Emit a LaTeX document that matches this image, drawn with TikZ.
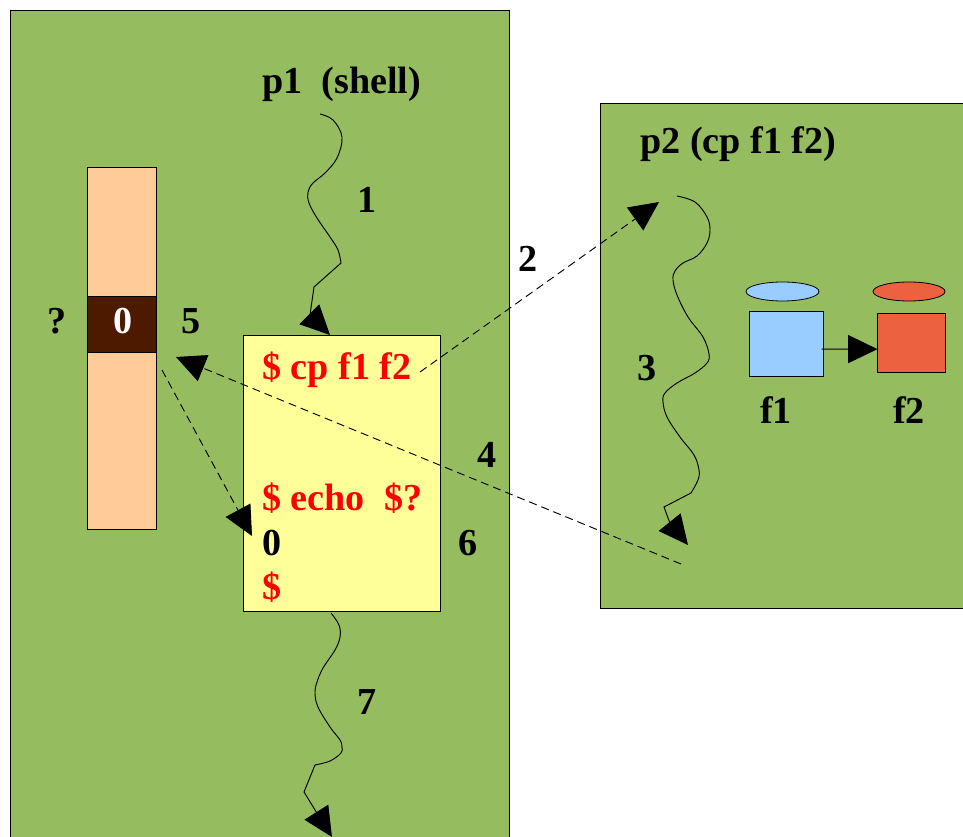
\documentclass[tikz,border=0pt]{standalone}
\usepackage{fontspec}
\setmainfont{Liberation Serif}
\usetikzlibrary{arrows.meta}
\usetikzlibrary{shapes.geometric}
\tikzset{>={Triangle[length=22pt,width=21pt]}}
\tikzstyle{panel} = [draw=black,line width=0.6pt]
\tikzstyle{box} = [draw=black,line width=0.6pt,inner sep=0pt]
\tikzstyle{tag} = [inner sep=0pt,anchor=base west,font=\fontsize{28.6}{30}\selectfont\bfseries]
\tikzstyle{wave} = [line width=0.7pt,->]
\tikzstyle{jump} = [line width=0.7pt,->,dash pattern=on 6pt off 3.75pt]
\definecolor{panelgreen}{HTML}{95BC5F}
\definecolor{termyellow}{HTML}{FFFF99}
\definecolor{tablepeach}{HTML}{FFCC99}
\definecolor{slotbrown}{HTML}{4D1A00}
\definecolor{fileblue}{HTML}{99CCFF}
\definecolor{filered}{HTML}{EC6240}

\begin{document}
\begin{tikzpicture}[x=0.75pt,y=-0.75pt]
\useasboundingbox (0,0) rectangle (963,837);
\clip (0,0) rectangle (963,837);
\fill[white] (0,0) rectangle (963,837);
% process panels
\draw[panel,fill=panelgreen] (10.1,10.1) rectangle (509.1,860);
\draw[panel,fill=panelgreen] (600.1,103.1) rectangle (980,608.1);
% descriptor table
\node[box,fill=tablepeach,minimum width=51.75pt,minimum height=271.5pt] (table) at (122,348.1) {};
\node[box,fill=slotbrown,minimum width=51.75pt,minimum height=42pt] (slot) at (122,324.1) {};
% terminal
\node[box,fill=termyellow,minimum width=147.75pt,minimum height=207pt] (term) at (341.6,473.1) {};
% files
\node[box,fill=fileblue,ellipse,minimum width=54.75pt,minimum height=14.25pt] (f1top) at (782.5,291.5) {};
\node[box,fill=filered,ellipse,minimum width=54pt,minimum height=14.25pt] (f2top) at (909,291.5) {};
\node[box,fill=fileblue,minimum width=55.5pt,minimum height=48.75pt] (f1box) at (786.1,343.6) {};
\node[box,fill=filered,minimum width=51pt,minimum height=44.25pt] (f2box) at (911.1,342.6) {};
\draw[->,line width=0.7pt] ([xshift=-1.5pt,yshift=-4.1pt]f1box.east) -- ([xshift=0.6pt,yshift=-4.9pt]f2box.west);
% free ends of the connectors
\coordinate (w1a) at (320,114);
\coordinate (w1b) at (330,335);
\coordinate (w3a) at (677,196);
\coordinate (w3b) at (688,545);
\coordinate (w7a) at (331,613);
\coordinate (w7b) at (332,837);
\coordinate (j2a) at (420,372);
\coordinate (j2b) at (659,202);
\coordinate (j4a) at (681,564);
\coordinate (j4b) at (176,357);
\coordinate (j6a) at (162,370);
\coordinate (j6b) at (252,536);
% control flow
\draw[wave] plot[smooth,tension=0.6] coordinates {(w1a) (333,120) (342,137) (337,158) (325,173) (313,183) (308,192) (309,203) (317,218) (330,237) (338,250) (341,263)}
 -- (314,287) -- (310,315) -- (w1b);
\draw[wave] plot[smooth,tension=0.6] coordinates {(w3a) (695,202) (707,217) (710,230) (707,243) (697,256) (683,263) (675,271) (673,280) (677,295) (688,317) (703,337) (709,354) (707,363) (695,373) (677,383) (665,393) (663,402) (667,417) (680,437) (694,455) (699,470) (698,480) (691,493)}
 -- (664,507) -- (669.5,522) -- (w3b);
\draw[wave] plot[smooth,tension=0.6] coordinates {(w7a) (339,625) (340,637) (335,650) (323,668) (317,682) (315,693) (318,707) (330,727) (340,740) (342,747) (341,753) (330,761) (315,765)}
 -- (304,792) -- (317.5,814) -- (w7b);
\draw[jump] (j2a) -- (j2b);
\draw[jump] (j4a) -- (j4b);
\draw[jump] (j6a) -- (j6b);
% labels
\node[tag] (p1) at (262,94) {p1\ \ (shell)};
\node[tag] (p2) at (640,154) {p2 (cp f1 f2)};
\node[tag] (n1) at (357,213) {1};
\node[tag] (n2) at (518,272) {2};
\node[tag] (n3) at (637,381) {3};
\node[tag] (n4) at (477,467) {4};
\node[tag] (n5) at (181,334) {5};
\node[tag] (n6) at (458,555) {6};
\node[tag] (n7) at (357,714) {7};
\node[tag] (unknown) at (47,334) {?};
\node[tag,text=white] (zero) at (113,334) {0};
\node[tag,text=red] (cmd1) at (262,380) {\$ cp f1 f2};
\node[tag,text=red] (cmd2) at (262,510) {\$ echo\ \ \$?};
\node[tag] (out) at (262,555) {0};
\node[tag,text=red] (prompt) at (262,599) {\$};
\node[tag] (f1) at (760,424) {f1};
\node[tag] (f2) at (893,424) {f2};
\end{tikzpicture}
\end{document}
